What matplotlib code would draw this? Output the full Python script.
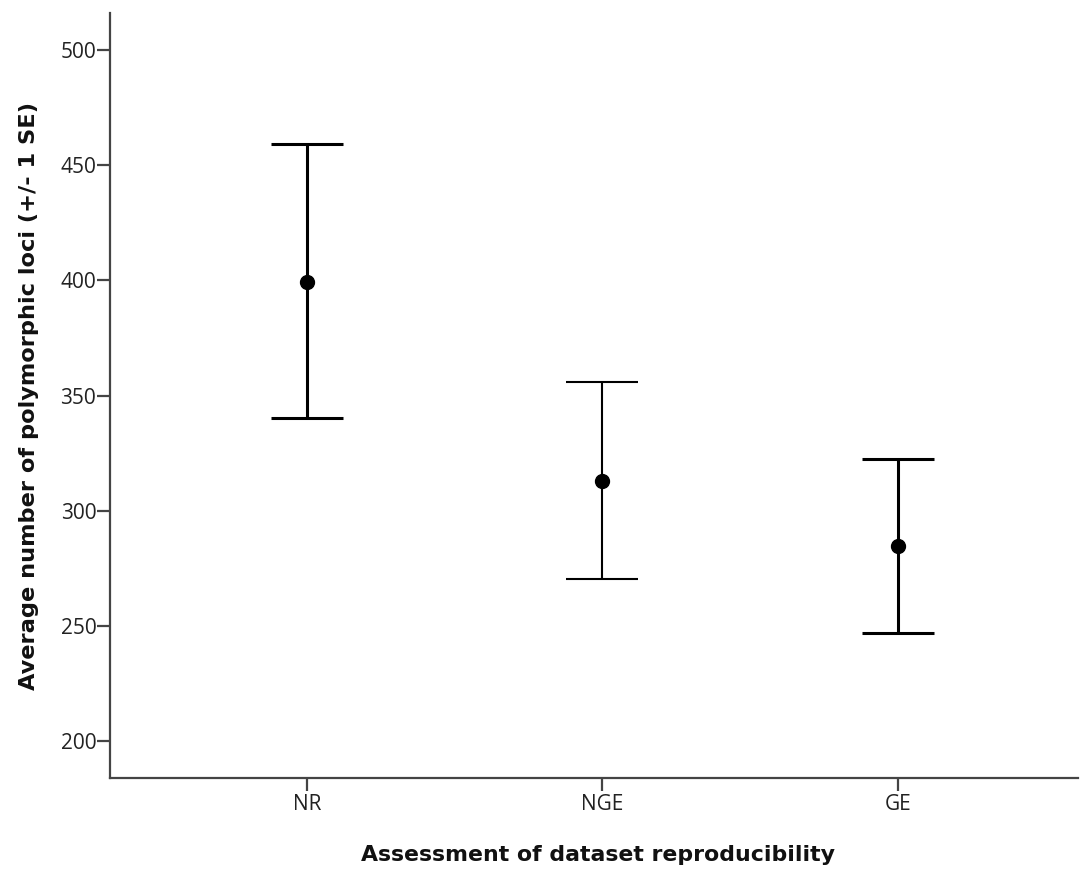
import matplotlib
matplotlib.use("Agg")
import matplotlib.pyplot as plt

# Data
groups = ["NR", "NGE", "GE"]
means = [399.5, 313.0, 284.5]
upper = [459.2, 355.9, 322.5]
lower = [340.4, 270.3, 247.0]
bar_widths = [2.2, 1.5, 2.2]  # NR and GE drawn heavier than NGE
y_ticks = [200, 250, 300, 350, 400, 450, 500]

plt.rcParams["font.family"] = ["Open Sans", "DejaVu Sans"]

fig = plt.figure(figsize=(10.81, 8.73), dpi=100)
ax = fig.add_axes([0.1018, 0.1088, 0.8954, 0.8763])

xs = list(range(len(groups)))
for x, m, hi, lo, lw in zip(xs, means, upper, lower, bar_widths):
    ax.errorbar([x], [m], yerr=[[m - lo], [hi - m]], fmt="o", color="black",
                ecolor="black", elinewidth=lw, capsize=26, capthick=lw,
                markersize=10, zorder=3)

ax.set_xlim(-0.667, 2.61)
ax.set_ylim(183.9, 516.1)
ax.set_xticks(xs)
ax.set_xticklabels(groups)
ax.set_yticks(y_ticks)

for side in ["top", "right"]:
    ax.spines[side].set_visible(False)
for side in ["left", "bottom"]:
    ax.spines[side].set_color("#444444")
    ax.spines[side].set_linewidth(1.6)

ax.tick_params(axis="both", direction="out", length=9.4, width=1.6,
               color="#444444", labelcolor="#222222", labelsize=15)
ax.tick_params(axis="y", pad=0.5)
ax.tick_params(axis="x", pad=2)

ax.set_xlabel("Assessment of dataset reproducibility", fontsize=15.8,
              fontweight="bold", color="#111111", family="DejaVu Sans")
ax.set_ylabel("Average number of polymorphic loci (+/- 1 SE)", fontsize=16.2,
              fontweight="bold", color="#111111", family="DejaVu Sans")
ax.xaxis.set_label_coords(0.504, -0.087)
ax.yaxis.set_label_coords(-0.073, 0.5)

fig.savefig("out.png", dpi=100)
